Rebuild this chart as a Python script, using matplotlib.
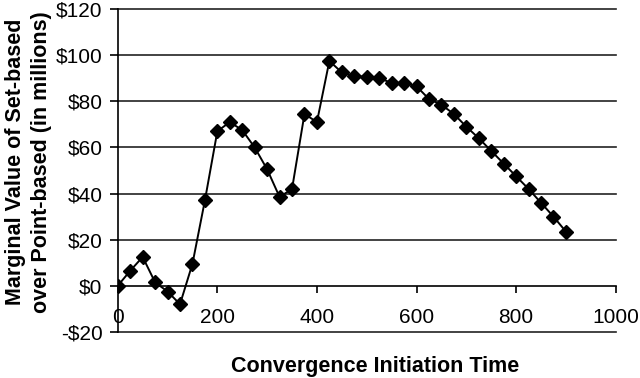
import numpy as np
import matplotlib
matplotlib.use('Agg')
import matplotlib.pyplot as plt
from matplotlib.ticker import FuncFormatter

plt.rcParams.update({
    'font.family': ['Liberation Sans', 'DejaVu Sans'],
    'font.size': 15,
})

# Convergence initiation time (every 25 units)
init_time = list(range(0, 901, 25))
# Marginal value of set-based over point-based ($ millions)
marginal_value = [0, 6.5, 12.5, 1.5, -2.5, -8, 9.5, 37, 67, 71,
                  67.5, 60, 50.5, 38.5, 42, 74.5, 71, 97.5, 92.5, 91,
                  90.5, 90, 88, 88, 86.5, 81, 78.5, 74.5, 69, 64,
                  58.5, 53, 47.5, 42, 36, 30, 23.5]

x_ticks = [0, 200, 400, 600, 800, 1000]
y_ticks = [-20, 0, 20, 40, 60, 80, 100, 120]

fig = plt.figure(figsize=(6.4, 3.78), dpi=100)
ax = fig.add_axes([0.184, 0.122, 0.778, 0.854])

# horizontal gridlines (the $0 line is the x axis itself)
for yv in y_ticks:
    if yv != 0:
        ax.axhline(yv, color='#222222', linewidth=1.2, zorder=1, clip_on=False)

ax.plot(init_time, marginal_value, color='black', linewidth=1.4,
        marker='D', markersize=7.5, zorder=3)

ax.set_xlim(0, 1000)
ax.set_ylim(-20, 120)
ax.set_xticks(x_ticks)
ax.set_yticks(y_ticks)
ax.yaxis.set_major_formatter(FuncFormatter(lambda v, p: f'-${-int(v)}' if v < 0 else f'${int(v)}'))

ax.spines['top'].set_visible(False)
ax.spines['right'].set_visible(False)
ax.spines['bottom'].set_position(('data', 0))
ax.spines['left'].set_linewidth(1.2)
ax.spines['bottom'].set_linewidth(1.2)
ax.tick_params(axis='both', direction='out', width=1.2, labelsize=15)
ax.tick_params(axis='x', length=5, pad=11)
ax.tick_params(axis='y', length=6, pad=5)

fig.text(0.045, 0.571, 'Marginal Value of Set-based\nover Point-based (in millions)',
         rotation=90, ha='center', va='center', multialignment='center',
         fontweight='bold', fontsize=15.5, linespacing=1.3)
fig.text(0.586, 0.03, 'Convergence Initiation Time', ha='center', va='center',
         fontweight='bold', fontsize=15.5)

fig.savefig('out.png', dpi=100)
